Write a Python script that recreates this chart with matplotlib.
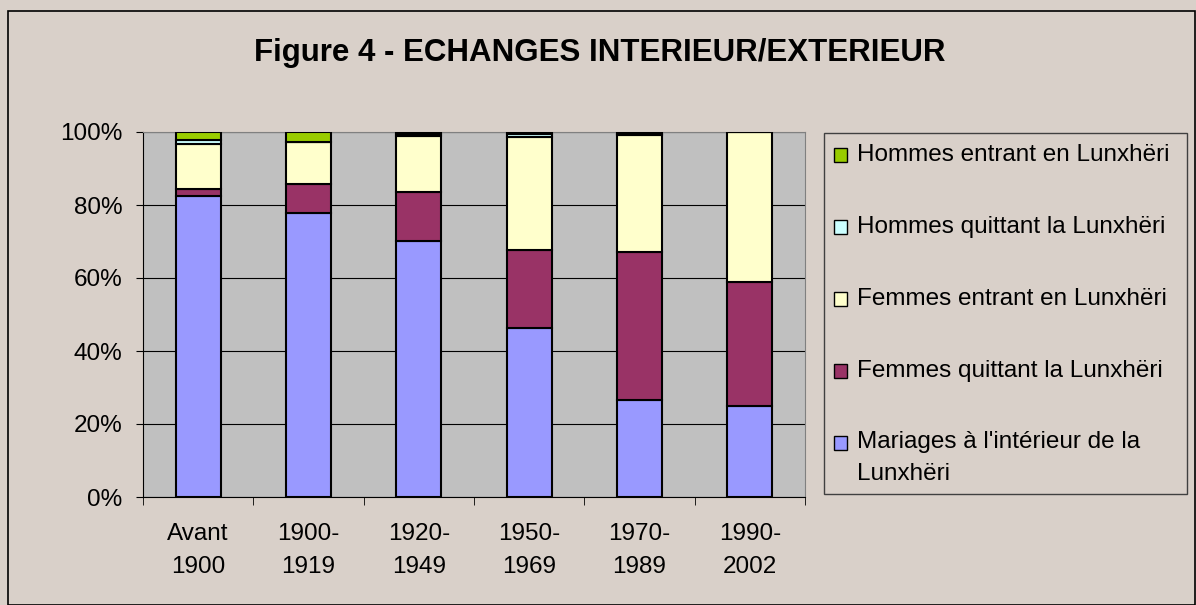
import matplotlib.pyplot as plt
from matplotlib.patches import Rectangle
from matplotlib.ticker import FuncFormatter

plt.rcParams['font.family'] = ['Liberation Sans', 'DejaVu Sans']

periodes = ['Avant\n1900', '1900-\n1919', '1920-\n1949', '1950-\n1969', '1970-\n1989', '1990-\n2002']
mariages_int = [82.5, 77.8, 70.2, 46.3, 26.5, 25.0]
femmes_quittant = [1.9, 8.0, 13.3, 21.3, 40.6, 34.0]
femmes_entrant = [12.3, 11.5, 15.4, 30.9, 32.1, 41.0]
hommes_quittant = [1.1, 0.0, 0.5, 1.0, 0.3, 0.0]
hommes_entrant = [2.2, 2.7, 0.6, 0.5, 0.5, 0.0]

series = [
    ("Mariages à l'intérieur de la\nLunxhëri", mariages_int, '#9999FF'),
    ('Femmes quittant la Lunxhëri', femmes_quittant, '#993366'),
    ('Femmes entrant en Lunxhëri', femmes_entrant, '#FFFFCC'),
    ('Hommes quittant la Lunxhëri', hommes_quittant, '#CCFFFF'),
    ('Hommes entrant en Lunxhëri', hommes_entrant, '#99CC00'),
]

W, H = 1196, 605
fs = 17.5

fig = plt.figure(figsize=(W / 100, H / 100), dpi=100)
fig.patch.set_facecolor('#D9D0C9')
fig.patches.append(Rectangle((8 / W, 0.0), 1 - 9 / W, 1 - 11 / H, transform=fig.transFigure,
                             fill=False, edgecolor='black', linewidth=1.2))

ax = fig.add_axes([143 / W, 1 - 497 / H, (805 - 143) / W, (497 - 132) / H])
ax.set_facecolor('#C0C0C0')

x = range(len(periodes))
totals = [sum(s[1][i] for s in series) for i in x]
bottom = [0.0] * len(periodes)
for nom, vals, couleur in series:
    pct = [v / t * 100 for v, t in zip(vals, totals)]
    ax.bar(x, pct, width=0.41, bottom=bottom, color=couleur, edgecolor='black',
           linewidth=1.5, label=nom, zorder=3)
    bottom = [a + c for a, c in zip(bottom, pct)]

ax.set_xlim(-0.5, 5.5)
ax.set_ylim(0, 100)
ax.set_yticks(range(0, 101, 20))
ax.yaxis.set_major_formatter(FuncFormatter(lambda v, p: '%d%%' % v))
ax.yaxis.grid(True, color='black', linewidth=0.8, zorder=0)
ax.set_xticks(list(x))
ax.set_xticklabels(periodes, fontsize=fs, linespacing=1.65)
ax.set_xticks([i - 0.5 for i in range(len(periodes) + 1)], minor=True)
ax.tick_params(axis='x', which='major', length=0, pad=19)
ax.tick_params(axis='x', which='minor', length=6, direction='out', color='black')
ax.tick_params(axis='y', labelsize=fs, length=5, direction='out', color='black', pad=10)
for s in ['top', 'right']:
    ax.spines[s].set_color('#808080')
for s in ['left', 'bottom']:
    ax.spines[s].set_color('black')

fig.text(600 / W, 1 - 53 / H, 'Figure 4 - ECHANGES INTERIEUR/EXTERIEUR',
         ha='center', va='center', fontsize=22.5, fontweight='bold')

# legende dessinee a la main (cadre + carres + textes)
fig.patches.append(Rectangle((824 / W, 1 - 494 / H), (1187 - 824) / W, (494 - 133) / H,
                             transform=fig.transFigure, facecolor='#D9D0C9', edgecolor='#404040',
                             linewidth=1.0))
y0 = 155
for k, (nom, vals, couleur) in enumerate(series[::-1]):
    yc = y0 + 72 * k
    fig.patches.append(Rectangle((834 / W, 1 - (yc + 7) / H), 13 / W, 14 / H,
                                 transform=fig.transFigure, facecolor=couleur,
                                 edgecolor='black', linewidth=1.0))
    nlignes = nom.count('\n')
    fig.text(857 / W, 1 - (yc + 15 * nlignes) / H, nom, ha='left', va='center',
             fontsize=fs, linespacing=1.6)

fig.savefig('out.png', dpi=100, facecolor=fig.get_facecolor())
